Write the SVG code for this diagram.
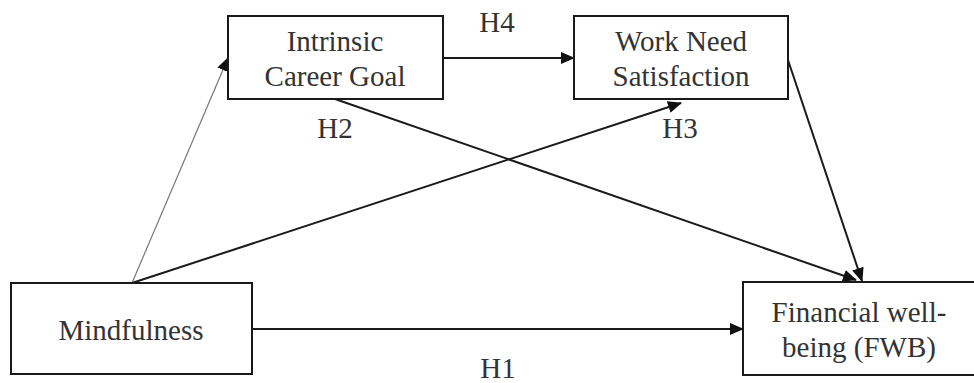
<svg xmlns="http://www.w3.org/2000/svg" width="974" height="383" viewBox="0 0 974 383">
<defs>
<style>
.box{fill:#fff;stroke:#1a1a1a;stroke-width:2}
.t{font-family:"Liberation Serif","Times New Roman",serif;font-size:29px;fill:#333;text-anchor:middle}
.c{stroke:#1a1a1a;stroke-width:2;fill:none}
.thin{stroke:#777;stroke-width:1.2;fill:none}
</style>
<marker id="ah" markerUnits="userSpaceOnUse" markerWidth="14" markerHeight="12" refX="13" refY="6" orient="auto">
<path d="M0,0 L14,6 L0,12 Z" fill="#111"/>
</marker>
</defs>
<g id="connectors">
<line class="thin" x1="132" y1="283" x2="228" y2="58" marker-end="url(#ah)"/>
<line class="c" x1="132" y1="283" x2="681" y2="103" marker-end="url(#ah)"/>
<line class="c" x1="443" y1="58" x2="574" y2="58" marker-end="url(#ah)"/>
<line class="c" x1="335" y1="99" x2="856" y2="280" marker-end="url(#ah)"/>
<line class="c" x1="788" y1="60" x2="862" y2="281" marker-end="url(#ah)"/>
<line class="c" x1="252" y1="329" x2="743" y2="329" marker-end="url(#ah)"/>
</g>
<g id="intrinsic">
<rect class="box" x="228" y="16" width="215" height="83"/>
<text class="t" x="335" y="51">Intrinsic</text>
<text class="t" x="335" y="86">Career Goal</text>
</g>
<g id="workneed">
<rect class="box" x="574" y="16" width="214" height="83"/>
<text class="t" x="681" y="51">Work Need</text>
<text class="t" x="681" y="86">Satisfaction</text>
</g>
<g id="mindfulness">
<rect class="box" x="11" y="283" width="241" height="91"/>
<text class="t" x="131" y="340">Mindfulness</text>
</g>
<g id="fwb">
<rect class="box" x="743" y="282" width="232" height="93"/>
<text class="t" x="859" y="322">Financial well-</text>
<text class="t" x="859" y="357">being (FWB)</text>
</g>
<g id="labels">
<text class="t" x="497" y="32">H4</text>
<text class="t" x="335" y="138">H2</text>
<text class="t" x="680" y="138">H3</text>
<text class="t" x="498" y="378">H1</text>
</g>
</svg>
